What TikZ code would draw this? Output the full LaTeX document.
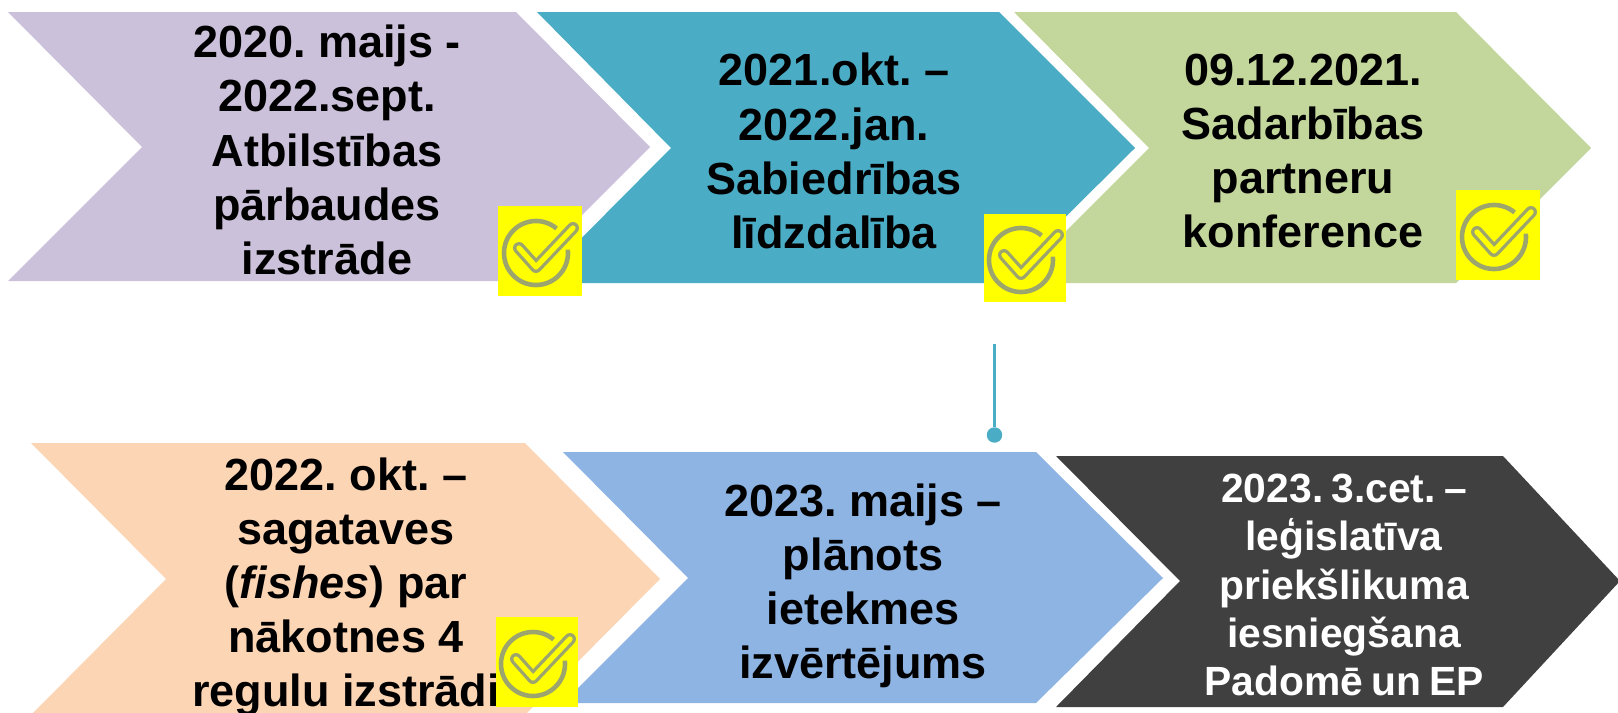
\documentclass[tikz,border=0pt]{standalone}
\usepackage{fontspec}
\setmainfont{Liberation Sans}
\definecolor{lavender}{HTML}{CCC1DA}
\definecolor{teal}{HTML}{4BACC6}
\definecolor{sage}{HTML}{C3D69B}
\definecolor{peach}{HTML}{FCD5B5}
\definecolor{skyblue}{HTML}{8EB4E3}
\definecolor{charcoal}{HTML}{404040}
\definecolor{okgray}{HTML}{9DA56E}
\definecolor{okyellow}{HTML}{FFFF00}
\newcommand{\tightspace}{\spaceskip=0.2em\relax}
\begin{document}
\begin{tikzpicture}[x=0.01cm,y=-0.01cm]
	\tikzstyle{label}=[text=black,align=center,inner sep=0pt,font=\bfseries\frenchspacing\fontsize{12.8}{15.4}\selectfont]
	\tikzstyle{label-small}=[text=white,align=center,inner sep=0pt,font=\bfseries\frenchspacing\fontsize{11.6}{13.75}\selectfont\tightspace]
	\tikzstyle{okbox}=[fill=okyellow,inner sep=0pt]
	\tikzstyle{pin-line}=[draw=teal,line width=0.8pt]
	\tikzstyle{pin-dot}=[circle,fill=teal,inner sep=0pt,minimum size=4.4pt]
	\tikzset{okmark/.pic={
		\draw[okgray,line width=1.3pt] (-4,2)+(-50:32) arc[start angle=-50,end angle=-366,radius=32];
		\draw[okgray,line width=3.4pt,line cap=round,line join=round] (-21,-3) -- (-4,16) -- (33,-23);
		\draw[okyellow,line width=1.5pt,line cap=round,line join=round] (-21,-3) -- (-4,16) -- (33,-23);
	}}
	
	\useasboundingbox (0,0) rectangle (1618,712);
	
	% top row
	\fill[lavender] (8,12) -- (516,12) -- (650,147) -- (516,281) -- (8,281) -- (142,147) -- cycle;
	\fill[teal] (537,12) -- (999,12) -- (1135,148) -- (999,283) -- (537,283) -- (671,148) -- cycle;
	\fill[sage] (1014,12) -- (1456,12) -- (1591,148) -- (1456,283) -- (1014,283) -- (1149,148) -- cycle;
	
	% bottom row
	\fill[peach] (31,443) -- (525,443) -- (660,579) -- (525,715) -- (31,715) -- (166,579) -- cycle;
	\fill[skyblue] (563,452) -- (1036,452) -- (1163,578) -- (1036,703) -- (563,703) -- (688,578) -- cycle;
	\fill[charcoal] (1056,456) -- (1503,456) -- (1620,581) -- (1503,707) -- (1056,707) -- (1180,581) -- cycle;
	
	\node[label] (t1) at (327,150) {2020. maijs -\\2022.sept.\\Atbilstības\\pārbaudes\\izstrāde};
	\node[label] (t2) at (834,151) {2021.okt. --\\2022.jan.\\Sabiedrības\\līdzdalība};
	\node[label] (t3) at (1303,151) {09.12.2021.\\Sadarbības\\partneru\\konference};
	\node[label] (t4) at (346,587) {2022. okt. --\\sagataves\\(\textit{fishes}) par\\nākotnes 4\\regulu izstrādi};
	\node[label] (t5) at (863,586) {2023. maijs --\\plānots\\ietekmes\\izvērtējums};
	\node[label-small] (t6) at (1344,585) {2023. 3.cet. --\\leģislatīva\\priekšlikuma\\iesniegšana\\Padomē un EP};
	
	\node[okbox,minimum width=0.84cm,minimum height=0.90cm] (ok1) at (540,251) {};
	\node[okbox,minimum width=0.82cm,minimum height=0.88cm] (ok2) at (1025,258) {};
	\node[okbox,minimum width=0.84cm,minimum height=0.89cm] (ok3) at (1498,235) {};
	\node[okbox,minimum width=0.82cm,minimum height=0.89cm] (ok4) at (537,662) {};
	\pic at (ok1) {okmark};
	\pic at (ok2) {okmark};
	\pic at (ok3) {okmark};
	\pic at (ok4) {okmark};
	
	\coordinate (pin-top) at (994.5,344);
	\node[pin-dot] (pin) at (994.5,435) {};
	\draw[pin-line] (pin-top) -- (pin);
\end{tikzpicture}
\end{document}
